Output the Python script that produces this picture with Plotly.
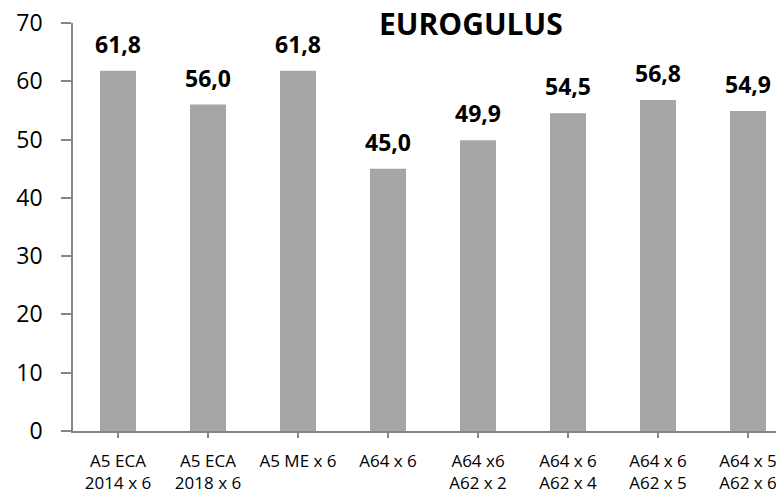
import plotly.graph_objects as go

categories = [
    "A5 ECA<br>2014 x 6",
    "A5 ECA<br>2018 x 6",
    "A5 ME x 6",
    "A64 x 6",
    "A64 x6<br>A62 x 2",
    "A64 x 6<br>A62 x 4",
    "A64 x 6<br>A62 x 5",
    "A64 x 5<br>A62 x 6",
]
values = [61.8, 56.0, 61.8, 45.0, 49.9, 54.5, 56.8, 54.9]
y_ticks = [0, 10, 20, 30, 40, 50, 60, 70]

FONT = "Open Sans"
AXIS_GREY = "#868686"
BAR_GREY = "#A6A6A6"

fig = go.Figure(
    go.Bar(
        x=list(range(len(categories))),
        y=values,
        width=0.4,
        marker=dict(color=BAR_GREY, line=dict(width=0)),
        hoverinfo="skip",
    )
)

# value labels above each bar, decimal comma
for i, v in enumerate(values):
    fig.add_annotation(
        x=i, y=v, xref="x", yref="y",
        text=f"<b>{v:.1f}</b>".replace(".", ","),
        showarrow=False, yanchor="bottom", yshift=9,
        font=dict(family=FONT, size=23, color="#000000"),
    )

fig.add_annotation(
    x=0.566, y=1.0, xref="paper", yref="paper",
    text="<b>EUROGULUS</b>", showarrow=False,
    xanchor="center", yanchor="middle",
    font=dict(family=FONT, size=30, color="#000000"),
)

fig.update_layout(
    width=776, height=493,
    margin=dict(l=73, r=0, t=22.5, b=61.7, pad=0),
    paper_bgcolor="white", plot_bgcolor="white",
    showlegend=False,
    font=dict(family=FONT, color="#000000"),
    xaxis=dict(
        range=[-0.5, 7.311],
        tickmode="array",
        tickvals=list(range(len(categories))),
        ticktext=categories,
        tickson="boundaries",
        ticks="outside", ticklen=5, tickcolor=AXIS_GREY, tickwidth=1.5,
        showline=True, linecolor=AXIS_GREY, linewidth=1.5,
        showgrid=False, zeroline=False,
        tickfont=dict(family=FONT, size=17, color="#000000"),
        ticklabelstandoff=9,
        ticklabeloverflow="allow",
        fixedrange=True,
    ),
    yaxis=dict(
        range=[0, 70],
        tickmode="array", tickvals=y_ticks,
        ticks="outside", ticklen=10, tickcolor=AXIS_GREY, tickwidth=1.5,
        showline=True, linecolor=AXIS_GREY, linewidth=1.5,
        showgrid=False, zeroline=False,
        tickfont=dict(family=FONT, size=23, color="#000000"),
        ticklabelstandoff=14,
        fixedrange=True,
    ),
)

fig.write_html("out.html")
